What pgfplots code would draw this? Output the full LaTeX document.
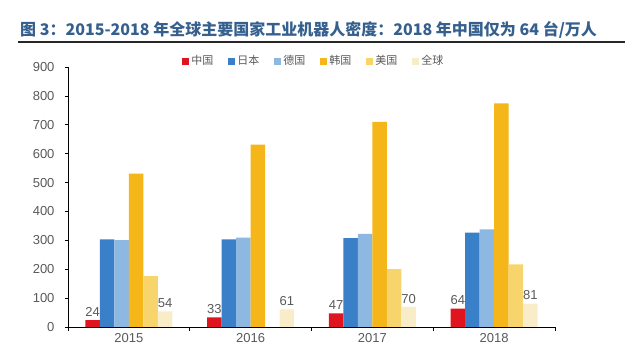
\documentclass[border=0pt]{standalone}
\usepackage{pgfplots}
\pgfplotsset{compat=1.18}
\usepackage{fontspec}
\setmainfont{Liberation Sans}
\newfontfamily\cjk{Noto Sans CJK SC}
\definecolor{cCN}{HTML}{E0141E}
\definecolor{cJP}{HTML}{3A80C8}
\definecolor{cDE}{HTML}{8CB8E2}
\definecolor{cKR}{HTML}{F4B618}
\definecolor{cUS}{HTML}{F8D56C}
\definecolor{cGL}{HTML}{F8EDC8}
\definecolor{titleblue}{HTML}{35608E}
\definecolor{tgray}{HTML}{595959}
\begin{document}
\begin{tikzpicture}[x=1pt,y=1pt]
\useasboundingbox (0,0) rectangle (640,358);
\node[anchor=west, text=titleblue, font=\cjk\bfseries\fontsize{16}{19}\selectfont, inner sep=0] at (20,328) {图 3：2015-2018 年全球主要国家工业机器人密度：2018 年中国仅为 64 台/万人};
\draw[line width=1.2pt, black!85] (18,316) -- (625,316);
\begin{axis}[
  at={(68pt,31pt)}, anchor=south west, scale only axis,
  width=487pt, height=260pt,
  ybar=0pt, bar width=14.5pt,
  xmin=-0.5, xmax=3.5, ymin=0, ymax=900,
  axis x line*=bottom, axis y line*=left,
  axis line style={black, line width=0.7pt},
  tick align=outside, major tick length=3pt,
  xtick={0,1,2,3}, xticklabels={2015,2016,2017,2018},
  x tick style={draw=none},
  extra x ticks={-0.5,0.5,1.5,2.5,3.5}, extra x tick labels={},
  extra x tick style={x tick style={draw=black, line width=0.7pt}, major tick length=4pt},
  ytick={0,100,...,900},
  y tick style={black, line width=0.6pt},
  /pgf/number format/assume math mode=true,
  ticklabel style={text=tgray, font=\fontsize{13}{15}\selectfont},
  yticklabel style={xshift=-7pt},
  every node near coord/.append style={text=tgray, font=\fontsize{13}{15}\selectfont},
  legend style={at={(0.505,1.023)}, anchor=center, draw=none, fill=none,
    legend columns=6, font=\cjk\fontsize{11}{13}\selectfont, text=tgray,
    /tikz/every even column/.append style={column sep=13pt}},
  legend image code/.code={\fill[#1, draw=none] (0pt,-3.5pt) rectangle (7pt,3.5pt);},
]
\addplot[fill=cCN, draw=none, nodes near coords] coordinates {(0,24) (1,33) (2,47) (3,64)};
\addplot[fill=cJP, draw=none] coordinates {(0,303) (1,303) (2,308) (3,327)};
\addplot[fill=cDE, draw=none] coordinates {(0,301) (1,309) (2,322) (3,338)};
\addplot[fill=cKR, draw=none] coordinates {(0,531) (1,631) (2,710) (3,774)};
\addplot[fill=cUS, draw=none] coordinates {(0,176) (2,200) (3,217)};
\addplot[fill=cGL, draw=none, nodes near coords] coordinates {(0,54) (1,61) (2,70) (3,81)};
\legend{中国,日本,德国,韩国,美国,全球}
\end{axis}
\end{tikzpicture}
\end{document}
